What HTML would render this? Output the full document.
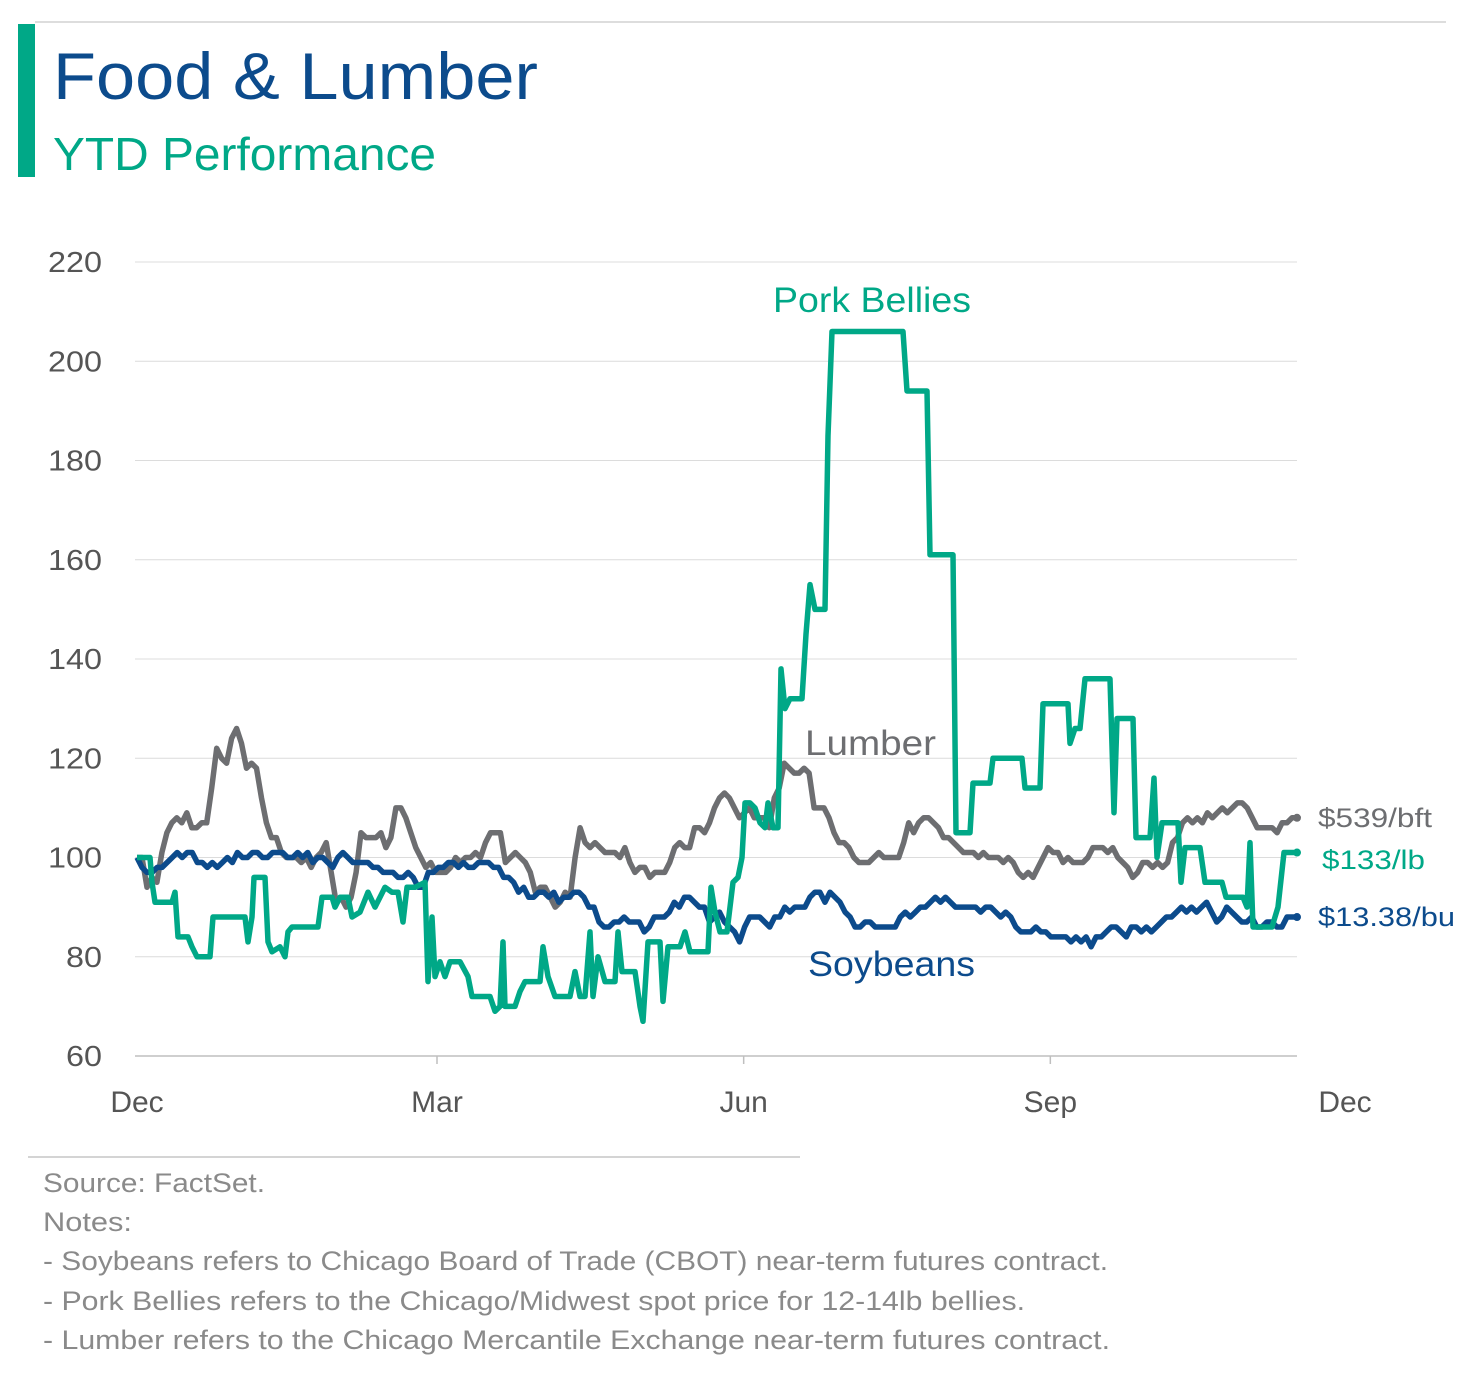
<!DOCTYPE html>
<html><head><meta charset="utf-8"><style>
body{margin:0;width:1476px;height:1377px;background:#fff;overflow:hidden;font-family:"Liberation Sans",sans-serif}
svg text{font-family:"Liberation Sans",sans-serif}
</style></head><body>
<svg id="chart" width="1476" height="1377" xmlns="http://www.w3.org/2000/svg">
<line x1="35" y1="22" x2="1446" y2="22" stroke="#bbb" stroke-width="1"/>
<rect x="18" y="24" width="17" height="153" fill="#00a887"/>
<text x="53" y="99" font-size="66" fill="#0c4b8c" textLength="485" lengthAdjust="spacingAndGlyphs">Food &amp; Lumber</text>
<text x="53" y="170" font-size="46" fill="#00a887" textLength="383" lengthAdjust="spacingAndGlyphs">YTD Performance</text>
<g id="grid"></g>
<g id="yticks"></g>
<g id="xticks"></g>
<g id="series"></g>
<text x="773" y="312" font-size="35" fill="#00a887" textLength="198" lengthAdjust="spacingAndGlyphs">Pork Bellies</text>
<text x="805" y="755" font-size="35" fill="#6d6e71" textLength="131" lengthAdjust="spacingAndGlyphs">Lumber</text>
<text x="808" y="976" font-size="35" fill="#0c4b8c" textLength="167" lengthAdjust="spacingAndGlyphs">Soybeans</text>
<text x="1318" y="827" font-size="27" fill="#6d6e71" textLength="114" lengthAdjust="spacingAndGlyphs">$539/bft</text>
<text x="1322" y="869" font-size="27" fill="#00a887" textLength="103" lengthAdjust="spacingAndGlyphs">$133/lb</text>
<text x="1318" y="926" font-size="27" fill="#0c4b8c" textLength="137" lengthAdjust="spacingAndGlyphs">$13.38/bu</text>
<line x1="28" y1="1157" x2="800" y2="1157" stroke="#aaa" stroke-width="1"/>
<g font-size="27" fill="#8a8a8a">
<text x="43" y="1192" textLength="222" lengthAdjust="spacingAndGlyphs">Source: FactSet.</text>
<text x="43" y="1231" textLength="89" lengthAdjust="spacingAndGlyphs">Notes:</text>
<text x="43" y="1270" textLength="1065" lengthAdjust="spacingAndGlyphs">- Soybeans refers to Chicago Board of Trade (CBOT) near-term futures contract.</text>
<text x="43" y="1310" textLength="982" lengthAdjust="spacingAndGlyphs">- Pork Bellies refers to the Chicago/Midwest spot price for 12-14lb bellies.</text>
<text x="43" y="1349" textLength="1067" lengthAdjust="spacingAndGlyphs">- Lumber refers to the Chicago Mercantile Exchange near-term futures contract.</text>
</g>
</svg>
<script>
const yTicks=[60,80,100,120,140,160,180,200,220];
const xTickLabels=["Dec","Mar","Jun","Sep","Dec"];
const xTickDays=[0,90,182,274,365];
const porkDays=[0,3.9,4.5,5.4,10.5,11.4,12.3,15.3,16.5,18,21.9,22.8,32.4,33.3,34.5,35.1,38.4,39.3,40.5,42.9,44.4,45.3,46.5,54.3,55.5,58.5,59.4,60.9,63.3,64.5,66.9,69.3,71.4,74.4,76.5,78.3,79.8,81,83.4,86.4,87.3,88.5,89.4,90.9,92.4,93.9,96.9,99.3,100.5,105.9,107.4,108.9,109.8,110.4,113.4,114.9,116.4,120.9,121.8,123.3,125.4,129.9,131.4,132.9,134.4,135.9,136.8,138.3,140.4,143.4,144.3,145.5,149.4,150.9,151.8,153.3,156.9,157.8,159.3,162.9,164.4,165.9,171.3,172.2,173.4,174.9,177,178.8,180.3,181.5,182.4,183.9,185.4,186.9,188.4,189.3,190.8,192.3,193.2,194.4,195.9,199.5,200.7,201.9,203.4,206.4,207.3,208.5,229.8,231,237,237.9,244.8,245.7,249.9,250.8,255.9,256.8,265.5,266.4,270.9,271.8,279.3,279.9,281.4,282.9,284.4,291.9,293.1,294,298.8,299.7,303.9,305.1,306,307.5,312.3,313.2,314.4,318.9,320.4,325.5,326.7,331.8,333,333.9,334.8,340.5,342.3,344.1,348];
const porkValues=[100,100,95,91,91,93,84,84,82,80,80,88,88,83,88,96,96,83,81,82,80,85,86,86,92,92,90,92,92,88,89,93,90,94,93,93,87,94,94,95,75,88,76,79,76,79,79,76,72,72,69,70,83,70,70,73,75,75,82,76,72,72,77,72,72,85,72,80,75,75,85,77,77,70,67,83,83,71,82,82,85,81,81,94,89,85,85,95,96,100,111,111,110,107,106,111,106,106,138,130,132,132,145,155,150,150,185,206,206,194,194,161,161,105,105,115,115,120,120,114,114,131,131,123,126,126,136,136,109,128,128,104,104,116,100,107,107,95,102,102,95,95,92,92,90,103,86,86,90,101,101];
const lumberValues=[100,100,94,96,95,101,105,107,108,107,109,106,106,107,107,114,122,120,119,124,126,123,118,119,118,112,107,104,104,101,100,100,100,99,100,98,100,101,103,97,91,92,90,92,97,105,104,104,104,105,102,104,110,110,108,105,102,100,98,99,97,97,97,98,100,99,100,100,101,100,103,105,105,105,99,100,101,100,99,97,93,94,94,92,90,91,93,92,100,106,103,102,103,102,101,101,101,100,102,99,97,98,98,96,97,97,97,99,102,103,102,102,106,106,105,107,110,112,113,112,110,108,109,110,108,108,108,106,112,114,119,118,117,117,118,117,110,110,110,108,105,103,103,102,100,99,99,99,100,101,100,100,100,100,103,107,105,107,108,108,107,106,104,104,103,102,101,101,101,100,101,100,100,100,99,100,99,97,96,97,96,98,100,102,101,101,99,100,99,99,99,100,102,102,102,101,102,100,99,98,96,97,99,99,98,99,98,99,103,104,107,108,107,108,107,109,108,109,110,109,110,111,111,110,108,106,106,106,106,105,107,107,108,108];
const soyValues=[100,98,97,97,98,98,99,100,101,100,101,101,99,99,98,99,98,99,100,99,101,100,100,101,101,100,100,101,101,101,100,100,101,100,101,99,100,100,99,98,100,101,100,99,99,99,99,98,98,97,97,97,96,96,97,96,94,94,97,97,98,98,99,99,98,99,98,98,99,99,99,98,98,96,96,95,93,94,92,92,93,93,92,93,91,92,92,93,93,92,90,90,87,86,86,87,87,88,87,87,87,85,86,88,88,88,89,91,90,92,92,91,90,90,87,88,89,87,86,85,83,86,88,88,88,87,86,88,88,90,89,90,90,90,92,93,93,91,93,92,91,89,88,86,86,87,87,86,86,86,86,86,88,89,88,89,90,90,91,92,91,92,91,90,90,90,90,90,89,90,90,89,88,89,88,86,85,85,85,86,85,85,84,84,84,84,83,84,83,84,82,84,84,85,86,86,85,84,86,86,85,86,85,86,87,88,88,89,90,89,90,89,90,91,89,87,88,90,89,88,87,87,88,86,86,87,87,86,86,88,88,88];
const NS='http://www.w3.org/2000/svg';
const X0=137,PXD=1160/348;
const x=d=>X0+d*PXD;
const y=v=>1056-(v-60)*4.9625;
const mk=(t,a)=>{const e=document.createElementNS(NS,t);for(const k in a)e.setAttribute(k,a[k]);return e;};
const grid=document.getElementById('grid'),yt=document.getElementById('yticks'),xt=document.getElementById('xticks'),ser=document.getElementById('series');
yTicks.forEach(v=>{
  if(v>60){const g=mk('line',{x1:135,x2:1297,y1:y(v),y2:y(v),stroke:'#dcdcdc','stroke-width':1});
  
  
  grid.appendChild(g);}
  const t=mk('text',{x:102,y:y(v)+10,'font-size':29,fill:'#555','text-anchor':'end',textLength:54,lengthAdjust:'spacingAndGlyphs'});t.textContent=v;
  if(v<100){t.setAttribute('textLength',36);}
  
  
  yt.appendChild(t);
});
const ax=mk('line',{x1:135,x2:1297,y1:y(60),y2:y(60),stroke:'#bfbfbf','stroke-width':1.5});


xt.appendChild(ax);
xTickLabels.forEach((l,i)=>{
  const px=x(xTickDays[i]);
  if(i>0&&i<4){const tk=mk('line',{x1:px,x2:px,y1:y(60),y2:y(60)+8,stroke:'#bfbfbf','stroke-width':1.5});
  
  
  xt.appendChild(tk);}
  const t=mk('text',{x:i==4?1345:px,y:1112,'font-size':30,fill:'#555','text-anchor':'middle'});t.textContent=l;
  
  
  xt.appendChild(t);
});
function draw(days,vals,color,name){
  const d=vals.map((v,i)=>(i?'L':'M')+x(days[i]).toFixed(1)+','+y(v).toFixed(1)).join('');
  const p=mk('path',{d:d,fill:'none',stroke:color,'stroke-width':5.5,'stroke-linejoin':'round'});
  
  
  ser.appendChild(p);
  const n=vals.length-1;
  const c=mk('circle',{cx:x(days[n]),cy:y(vals[n]),r:4,fill:color});
  
  
  ser.appendChild(c);
}
const uni=a=>a.map((_,i)=>i*348/(a.length-1));
draw(uni(lumberValues),lumberValues,'#6d6e71','lumber');
draw(uni(soyValues),soyValues,'#0c4b8c','soybeans');
draw(porkDays,porkValues,'#00a887','pork-bellies');
</script>
</body></html>
